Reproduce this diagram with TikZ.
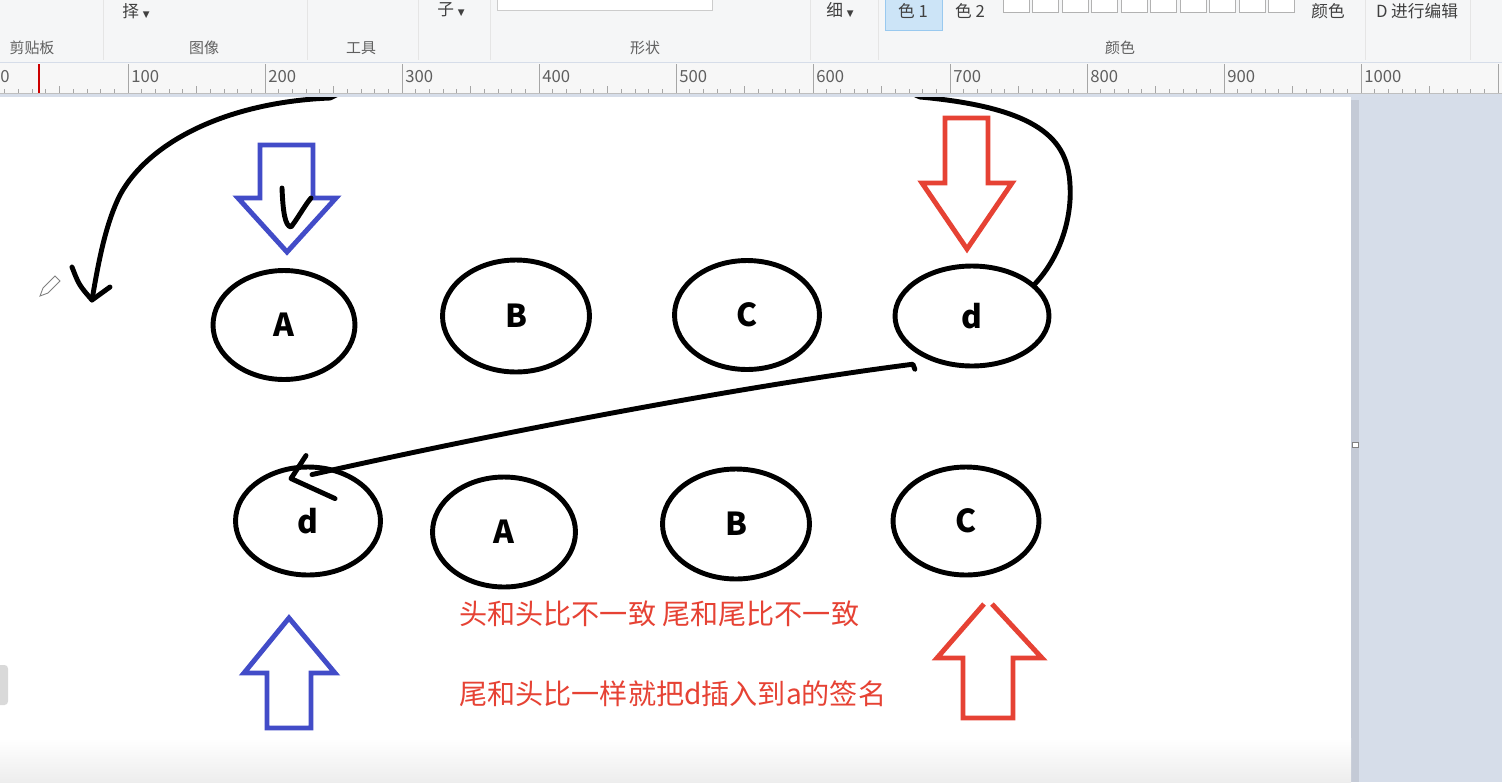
\documentclass[tikz,border=0pt]{standalone}
\usepackage{fontspec}
\usetikzlibrary{shapes,arrows,positioning,calc}
\newfontfamily\cjk{Noto Sans CJK SC}
\newfontfamily\symf{DejaVu Sans}
\definecolor{paintred}{RGB}{230,66,52}
\definecolor{paintblue}{RGB}{66,76,200}
\definecolor{barbg}{RGB}{245,246,247}
\definecolor{workbg}{RGB}{214,221,233}
\definecolor{edgebg}{RGB}{196,202,214}
\definecolor{uigray}{RGB}{95,95,95}
\definecolor{selblue}{RGB}{204,228,247}
\definecolor{selline}{RGB}{153,201,239}

\begin{document}
\begin{tikzpicture}[
    x=0.02cm, y=-0.02cm,
    oval/.style = {ellipse, draw, line width=2.8pt, inner sep=0pt, font=\cjk\bfseries\fontsize{18}{18}\selectfont},
    hand/.style = {line width=2.8pt, line cap=round, line join=round},
    blockarrow/.style = {line width=2.8pt, line join=miter},
    uitext/.style = {font=\cjk\fontsize{8.5}{9}\selectfont, text=uigray, inner sep=0pt},
    toptext/.style = {font=\cjk\fontsize{9.5}{10}\selectfont, text=black!75, inner sep=0pt},
    ruletext/.style = {font=\cjk\fontsize{9.5}{10}\selectfont, text=uigray, inner sep=0pt, anchor=west},
    note/.style = {font=\cjk\fontsize{16}{16}\selectfont, text=paintred, anchor=west, inner sep=0pt}
]
\useasboundingbox (0,0) rectangle (1502,782);

% ribbon and ruler
\fill[barbg] (0,0) rectangle (1502,62);
\fill[workbg] (0,62) rectangle (1502,782);
\fill[white!97!black] (0,63) rectangle (1502,93);
\draw[gray!50] (0,93) -- (1502,93);
\foreach \x in {103,307,418,490,810,878,1365,1470}
    \draw[gray!20] (\x,0) -- (\x,60);
\draw[gray!40, fill=white] (497,-2) rectangle (712,10);
\draw[selline, fill=selblue] (885,-2) rectangle (942,30);
\foreach \k in {0,...,9}
    \draw[gray!60, fill=white] ({1003+29.5*\k},-2) rectangle ++(26,14);

\node[toptext] (sel) at (136,11) {择 {\symf\fontsize{5}{5}\selectfont ▼}};
\node[toptext] (brush) at (451,10) {子 {\symf\fontsize{5}{5}\selectfont ▼}};
\node[toptext] (size) at (840,10) {细 {\symf\fontsize{5}{5}\selectfont ▼}};
\node[toptext] (col1) at (913,11) {色 1};
\node[toptext] (col2) at (970,11) {色 2};
\node[toptext] (editcol) at (1328,11) {颜色};
\node[toptext] (paint3d) at (1417,11) {D 进行编辑};

\node[uitext] (grpclip) at (32,48) {剪贴板};
\node[uitext] (grpimg) at (204,48) {图像};
\node[uitext] (grptool) at (361,48) {工具};
\node[uitext] (grpshape) at (645,48) {形状};
\node[uitext] (grpcolor) at (1120,48) {颜色};

\foreach \i in {0,...,111}
    \draw[gray!70] ({-9+13.7*\i},89) -- ++(0,4);
\foreach \i in {0,...,11} {
    \draw[gray!70] ({-9+137*\i},64) -- ++(0,29);
    \draw[gray!70] ({59.5+137*\i},86) -- ++(0,7);
}
\node[ruletext] (r0) at (0,77) {0};
\foreach \n [count=\k] in {100,200,...,1000}
    \node[ruletext] (r\n) at ({-6+137*\k},77) {\n};
\draw[red!80!black, line width=0.8pt] (39,64) -- (39,93);

% canvas
\fill[edgebg] (1351,100) rectangle (1359,782);
\fill[white] (0,97) rectangle (1351,782);
\shade[top color=white, bottom color=gray!14] (0,738) rectangle (1351,782);
\draw[gray, fill=white] (1352,442) rectangle (1358,447);
\fill[gray!30, rounded corners=2pt] (-5,665) rectangle (8,705);
\draw[gray, line width=0.5pt] (40,296) -- (43,288) -- (55,276) -- (60,281) -- (48,293) -- cycle;

% list before
\node[oval, minimum width=2.84cm, minimum height=2.18cm] (tA) at (284,325) {A};
\node[oval, minimum width=2.94cm, minimum height=2.24cm] (tB) at (516,316) {B};
\node[oval, minimum width=2.90cm, minimum height=2.18cm] (tC) at (747,315) {C};
\node[oval, minimum width=3.08cm, minimum height=2.00cm] (td) at (972,316) {d};

% list after
\node[oval, minimum width=2.90cm, minimum height=2.16cm] (bd) at (308,521) {d};
\node[oval, minimum width=2.86cm, minimum height=2.20cm] (bA) at (504,532) {A};
\node[oval, minimum width=2.94cm, minimum height=2.20cm] (bB) at (736,524) {B};
\node[oval, minimum width=2.92cm, minimum height=2.16cm] (bC) at (966,521) {C};

% head / tail pointers
\draw[blockarrow, paintblue] (260,145) -- (313,145) -- (313,198) -- (336,198) -- (287,252) -- (238,198) -- (260,198) -- cycle;
\draw[blockarrow, paintred] (945,118) -- (988,118) -- (988,183) -- (1012,183) -- (967,249) -- (922,183) -- (945,183) -- cycle;
\draw[blockarrow, paintblue] (267,728) -- (311,728) -- (311,673) -- (335,673) -- (289,618) -- (244,673) -- (267,673) -- cycle;
\draw[blockarrow, paintred] (984,604) -- (937,658) -- (963,658) -- (963,718) -- (1013,718) -- (1013,658) -- (1042,658) -- (992,604);

% hand strokes
\coordinate (arrL) at (92,300);
\begin{scope}
\clip (0,97) rectangle (1351,782);
\draw[hand] (td.27) .. controls (1062,255) and (1072,215) .. (1070,185)
    .. controls (1068,140) and (1040,108) .. (920,97) -- (900,88) -- (350,88) -- (330,98)
    .. controls (230,102) and (150,140) .. (120,195)
    .. controls (105,225) and (98,265) .. (arrL);
\end{scope}
\draw[hand] ([shift={(-20,-33)}]arrL) .. controls ([shift={(-13,-15)}]arrL) .. (arrL) -- ([shift={(18,-13)}]arrL);
\draw[hand] (282,188) .. controls (283,212) and (285,226) .. (291,227) .. controls (298,218) and (305,205) .. (311,198);

\coordinate (tipD) at ([shift={(-17,14)}]bd.north);
\draw[hand] ([shift={(-8,12)}]td.220) -- ([shift={(-10,7)}]td.220)
    .. controls (750,385) and (500,432) .. ([shift={(4,10)}]bd.north);
\draw[hand] ([shift={(15,-23)}]tipD) -- (tipD) -- ([shift={(44,20)}]tipD);

% notes
\node[note] (note1) at (459,614) {头和头比不一致 尾和尾比不一致};
\node[note] (note2) at (459,694) {尾和头比一样就把d插入到a的签名};
\end{tikzpicture}
\end{document}
